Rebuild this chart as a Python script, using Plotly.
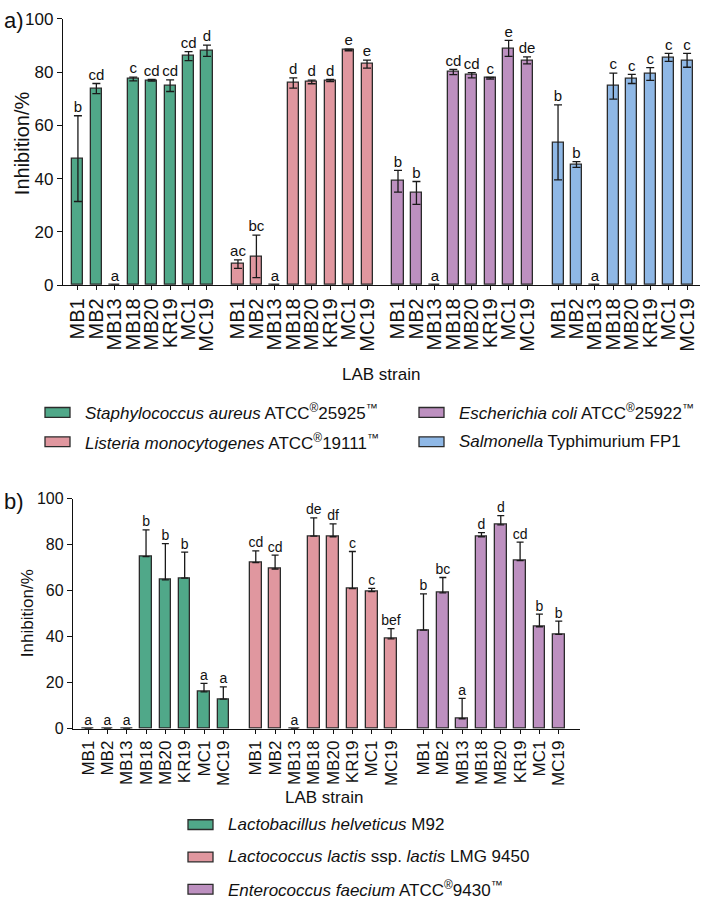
import plotly.graph_objects as go

# ---------------- data ----------------
strains = ["MB1", "MB2", "MB13", "MB18", "MB20", "KR19", "MC1", "MC19"]

# Panel a (pathogens)
names_a = [
    "<i>Staphylococcus aureus</i> ATCC<sup>®</sup>25925<sup>™</sup>",
    "<i>Listeria monocytogenes</i> ATCC<sup>®</sup>19111<sup>™</sup>",
    "<i>Escherichia coli</i> ATCC<sup>®</sup>25922<sup>™</sup>",
    "<i>Salmonella</i> Typhimurium FP1",
]
staph_vals = [47.5, 73.8, 0, 77.4, 76.9, 74.9, 86.0, 88.0]
staph_err = [16.1, 1.9, 0, 0.7, 0.3, 2.2, 1.7, 2.1]
staph_let = ["b", "cd", "a", "c", "cd", "cd", "cd", "d"]
list_vals = [7.9, 10.8, 0, 75.9, 76.3, 76.8, 88.3, 83.0]
list_err = [1.6, 8.0, 0, 1.9, 0.7, 0.4, 0.3, 1.5]
list_let = ["ac", "bc", "a", "d", "d", "d", "e", "e"]
ecoli_vals = [39.0, 34.6, 0, 80.0, 78.8, 77.7, 88.9, 84.4]
ecoli_err = [4.1, 4.3, 0, 1.0, 1.0, 0.3, 3.0, 1.3]
ecoli_let = ["b", "b", "a", "cd", "cd", "c", "e", "de"]
salm_vals = [53.6, 45.3, 0, 74.7, 77.4, 79.3, 85.5, 84.4]
salm_err = [14.1, 1.1, 0, 4.9, 1.7, 2.4, 1.5, 2.6]
salm_let = ["b", "b", "a", "c", "c", "c", "c", "c"]

# Panel b (LAB indicator strains)
names_b = [
    "<i>Lactobacillus helveticus</i> M92",
    "<i>Lactococcus lactis</i> ssp. <i>lactis</i> LMG 9450",
    "<i>Enterococcus faecium</i> ATCC<sup>®</sup>9430<sup>™</sup>",
]
helv_vals = [0, 0, 0, 74.8, 64.7, 65.4, 16.0, 12.8]
helv_err = [0, 0, 0, 11.6, 15.7, 11.3, 3.7, 5.4]
helv_let = ["a", "a", "a", "b", "b", "b", "a", "a"]
lact_vals = [72.2, 69.4, 0, 83.7, 83.4, 60.9, 59.6, 39.0]
lact_err = [5.1, 6.0, 0, 7.9, 5.6, 16.1, 1.4, 4.5]
lact_let = ["cd", "cd", "a", "de", "df", "c", "c", "bef"]
faec_vals = [42.8, 59.0, 4.3, 83.4, 88.6, 73.0, 44.3, 41.0]
faec_err = [15.8, 6.7, 8.9, 1.8, 4.0, 8.1, 5.5, 5.7]
faec_let = ["b", "bc", "a", "d", "d", "cd", "b", "b"]

y_ticks = [0, 20, 40, 60, 80, 100]

# ---------------- styles ----------------
colors_a = ["#50a889", "#e0979f", "#bd90c0", "#8fb8e6"]
colors_b = ["#50a889", "#e0979f", "#bd90c0"]
edge = "#2b2b2b"
FONT = "Arial, Liberation Sans, sans-serif"
W, H = 704, 911
GROUP_STEP = 8.68

series_a = [(staph_vals, staph_err, staph_let), (list_vals, list_err, list_let),
            (ecoli_vals, ecoli_err, ecoli_let), (salm_vals, salm_err, salm_let)]
series_b = [(helv_vals, helv_err, helv_let), (lact_vals, lact_err, lact_let),
            (faec_vals, faec_err, faec_let)]

fig = go.Figure()


def add_panel(series, colors, xa, ya, sym, letter_size, capw):
    tickv, tickt = [], []
    for g, (vals, err, let) in enumerate(series):
        xs = [g * GROUP_STEP + i for i in range(len(strains))]
        tickv += xs
        tickt += strains
        if sym:
            ey = dict(type="data", array=err, symmetric=True, color="#1a1a1a",
                      thickness=1.3, width=capw)
        else:
            ey = dict(type="data", array=err, arrayminus=[0] * len(err),
                      symmetric=False, color="#1a1a1a", thickness=1.3, width=capw)
        fig.add_trace(go.Bar(x=xs, y=vals, width=0.6, marker=dict(color=colors[g],
                             line=dict(color=edge, width=1.3)),
                             error_y=ey, xaxis=xa, yaxis=ya, showlegend=False))
        tops = [v + e for v, e in zip(vals, err)]
        fig.add_trace(go.Scatter(x=xs, y=tops, mode="text", text=let,
                                 textposition="top center", cliponaxis=False,
                                 textfont=dict(family=FONT, size=letter_size, color="#111"),
                                 xaxis=xa, yaxis=ya, showlegend=False, hoverinfo="skip"))
    return tickv, tickt


tv_a, tt_a = add_panel(series_a, colors_a, "x", "y", True, 15, 4)
tv_b, tt_b = add_panel(series_b, colors_b, "x2", "y2", False, 14, 3.5)

axis_common = dict(showline=True, linecolor="#111", linewidth=1.3, ticks="outside",
                   tickcolor="#111", ticklen=5, tickwidth=1.2, showgrid=False,
                   zeroline=False)


def px_x(p):
    return p / W


def px_y(p):
    return 1 - p / H


def tf(size):
    return dict(family=FONT, size=size, color="#111")


fig.update_layout(
    width=W, height=H, margin=dict(l=0, r=0, t=0, b=0),
    paper_bgcolor="white", plot_bgcolor="white", bargap=0,
    xaxis=dict(domain=[px_x(63), px_x(700)], range=[-0.81, 3 * GROUP_STEP + 7.7],
               tickmode="array", tickvals=tv_a, ticktext=tt_a, tickangle=-90,
               anchor="y", tickfont=tf(20), **{**axis_common, "ticklen": 4}),
    yaxis=dict(domain=[px_y(282), px_y(10)], range=[0, 100], tickvals=y_ticks,
               anchor="x", tickfont=tf(17), **axis_common),
    xaxis2=dict(domain=[px_x(73), px_x(580)], range=[-0.78, 2 * GROUP_STEP + 8.1],
                tickmode="array", tickvals=tv_b, ticktext=tt_b, tickangle=-90,
                anchor="y2", tickfont=tf(17), **{**axis_common, "ticklen": 4}),
    yaxis2=dict(domain=[px_y(735), px_y(500)], range=[0, 100], tickvals=y_ticks,
                anchor="x2", tickfont=tf(16), **axis_common),
)

ann = []
shapes = []


def label(text, x, y, size, angle=0, xanchor="center"):
    ann.append(dict(text=text, x=px_x(x), y=px_y(y), xref="paper", yref="paper",
                    xanchor=xanchor, yanchor="middle", textangle=angle,
                    showarrow=False, font=tf(size)))


# axis titles and panel labels
label("Inhibition/%", 22, 137, 20, angle=-90)
label("Inhibition/%", 27, 617, 17, angle=-90)
label("LAB strain", 381, 373, 17)
label("LAB strain", 324, 805, 17)
label("a)", 2, 12, 22, xanchor="left")
label("b)", 2, 503, 22, xanchor="left")


def legend_entry(name, color, sx, cy, size):
    shapes.append(dict(type="rect", xref="paper", yref="paper",
                       x0=px_x(sx), x1=px_x(sx + 25), y0=px_y(cy + 5), y1=px_y(cy - 5),
                       fillcolor=color, line=dict(color=edge, width=1.3)))
    label(name, sx + 38, cy, size, xanchor="left")


# legend a: two columns
legend_entry(names_a[0], colors_a[0], 45, 412, 17)
legend_entry(names_a[1], colors_a[1], 45, 442, 17)
legend_entry(names_a[2], colors_a[2], 419, 412, 17)
legend_entry(names_a[3], colors_a[3], 419, 442, 17)
# legend b: single column
for k in range(3):
    legend_entry(names_b[k], colors_b[k], 188, [833, 866, 899][k], 17)

fig.update_layout(annotations=ann, shapes=shapes)
fig.write_html("out.html")
